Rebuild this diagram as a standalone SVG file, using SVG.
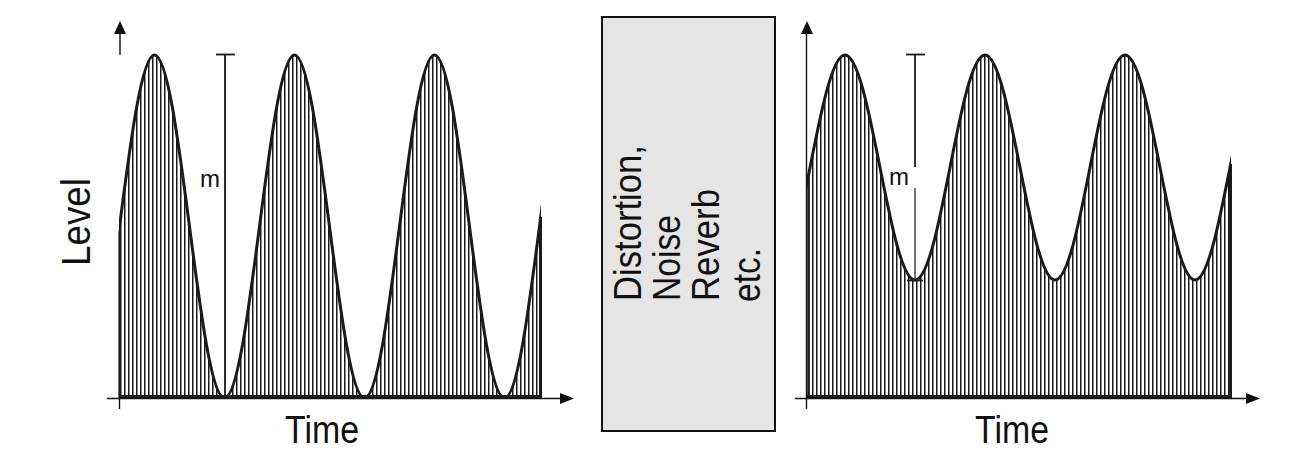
<svg xmlns="http://www.w3.org/2000/svg" width="1294" height="455" viewBox="0 0 1294 455">
<style>
.ax{stroke:#111;stroke-width:1.4;fill:none}
.curve{stroke:#1a1a1a;stroke-width:3;fill:none}
.edge{stroke:#1a1a1a;fill:none}
.head{fill:#111}
.lbl{font-family:"Liberation Sans",Arial,sans-serif;fill:#111}
</style>
<defs>
<pattern id="hatch" patternUnits="userSpaceOnUse" width="4" height="20" x="0" y="0">
<rect x="0" y="0" width="1.5" height="20" fill="#1a1a1a"/>
</pattern>
<clipPath id="clipL"><rect x="119" y="0" width="422" height="398"/></clipPath>
<clipPath id="clipR"><rect x="807" y="0" width="424" height="398"/></clipPath>
</defs>

<g id="left-plot">
<g id="left-axes">
<line class="ax" x1="107" y1="398.5" x2="562" y2="398.5"/>
<polygon class="head" points="560,393 574,398.5 560,404"/>
<line class="ax" x1="120" y1="33" x2="120" y2="55"/>
<polygon class="head" points="114,34 120,21 126,34"/>
<line class="ax" x1="119.5" y1="229" x2="119.5" y2="409"/>
</g>
<g id="left-wave">
<path clip-path="url(#clipL)" fill="url(#hatch)" d="M84.5,398 C109.94,398 129.06,55 154.5,55 C179.94,55 199.06,398 224.5,398 C249.94,398 269.06,55 294.5,55 C319.94,55 339.06,398 364.5,398 C389.94,398 409.06,55 434.5,55 C459.94,55 479.06,398 504.5,398 C529.94,398 549.06,55 574.5,55 L574.5,398 L84.5,398 Z"/>
<path class="curve" clip-path="url(#clipL)" d="M84.5,398 C109.94,398 129.06,55 154.5,55 C179.94,55 199.06,398 224.5,398 C249.94,398 269.06,55 294.5,55 C319.94,55 339.06,398 364.5,398 C389.94,398 409.06,55 434.5,55 C459.94,55 479.06,398 504.5,398 C529.94,398 549.06,55 574.5,55"/>
<line class="edge" stroke-width="3" x1="119" y1="396.5" x2="541" y2="396.5"/>
<line class="edge" stroke-width="2" x1="119.5" y1="231" x2="119.5" y2="398"/>
<line class="edge" stroke-width="3" x1="540.5" y1="217" x2="540.5" y2="398"/>
</g>
<g id="left-m">
<line class="edge" stroke-width="1.8" x1="225" y1="55" x2="225" y2="398"/>
<line class="edge" stroke-width="1.8" x1="216" y1="54.5" x2="235" y2="54.5"/>
<text class="lbl" x="200" y="187" font-size="24">m</text>
</g>
<text class="lbl" x="285" y="443" font-size="39" textLength="74" lengthAdjust="spacingAndGlyphs">Time</text>
<text class="lbl" transform="translate(90,266) rotate(-90)" x="0" y="0" font-size="40" textLength="88" lengthAdjust="spacingAndGlyphs">Level</text>
</g>

<g id="process-box">
<rect x="602" y="17" width="173" height="414" fill="#e5e5e5" stroke="#111" stroke-width="2"/>
<text class="lbl" transform="translate(641,301) rotate(-90)" font-size="38" textLength="156" lengthAdjust="spacingAndGlyphs">Distortion,</text>
<text class="lbl" transform="translate(680,301) rotate(-90)" font-size="38" textLength="86" lengthAdjust="spacingAndGlyphs">Noise</text>
<text class="lbl" transform="translate(719,301) rotate(-90)" font-size="38" textLength="112" lengthAdjust="spacingAndGlyphs">Reverb</text>
<text class="lbl" transform="translate(760,302) rotate(-90)" font-size="38" textLength="54" lengthAdjust="spacingAndGlyphs">etc.</text>
</g>

<g id="right-plot">
<g id="right-axes">
<line class="ax" x1="795" y1="398.5" x2="1248" y2="398.5"/>
<polygon class="head" points="1246,393 1260,398.5 1246,404"/>
<line class="ax" x1="806.5" y1="33" x2="806.5" y2="409"/>
<polygon class="head" points="801,34 807,21 813,34"/>
</g>
<g id="right-wave">
<path clip-path="url(#clipR)" fill="url(#hatch)" d="M775,280 C800.44,280 819.56,55 845,55 C870.44,55 889.56,280 915,280 C940.44,280 959.56,55 985,55 C1010.44,55 1029.56,280 1055,280 C1080.44,280 1099.56,55 1125,55 C1150.44,55 1169.56,280 1195,280 C1220.44,280 1239.56,55 1265,55 L1265,398 L775,398 Z"/>
<path class="curve" clip-path="url(#clipR)" d="M775,280 C800.44,280 819.56,55 845,55 C870.44,55 889.56,280 915,280 C940.44,280 959.56,55 985,55 C1010.44,55 1029.56,280 1055,280 C1080.44,280 1099.56,55 1125,55 C1150.44,55 1169.56,280 1195,280 C1220.44,280 1239.56,55 1265,55"/>
<line class="edge" stroke-width="3" x1="807" y1="396.5" x2="1231" y2="396.5"/>
<line class="edge" stroke-width="2.5" x1="808.5" y1="178" x2="808.5" y2="398"/>
<line class="edge" stroke-width="3" x1="1230.5" y1="164" x2="1230.5" y2="398"/>
</g>
<g id="right-m">
<line class="edge" stroke-width="1.8" x1="915" y1="55" x2="915" y2="167"/>
<line class="edge" stroke-width="1.2" x1="915" y1="188" x2="915" y2="280"/>
<line class="edge" stroke-width="1.8" x1="906" y1="54.5" x2="925" y2="54.5"/>
<line class="edge" stroke-width="1.8" x1="907" y1="280.5" x2="923" y2="280.5"/>
<text class="lbl" x="889" y="185" font-size="24">m</text>
</g>
<text class="lbl" x="975" y="443" font-size="39" textLength="74" lengthAdjust="spacingAndGlyphs">Time</text>
</g>
</svg>
